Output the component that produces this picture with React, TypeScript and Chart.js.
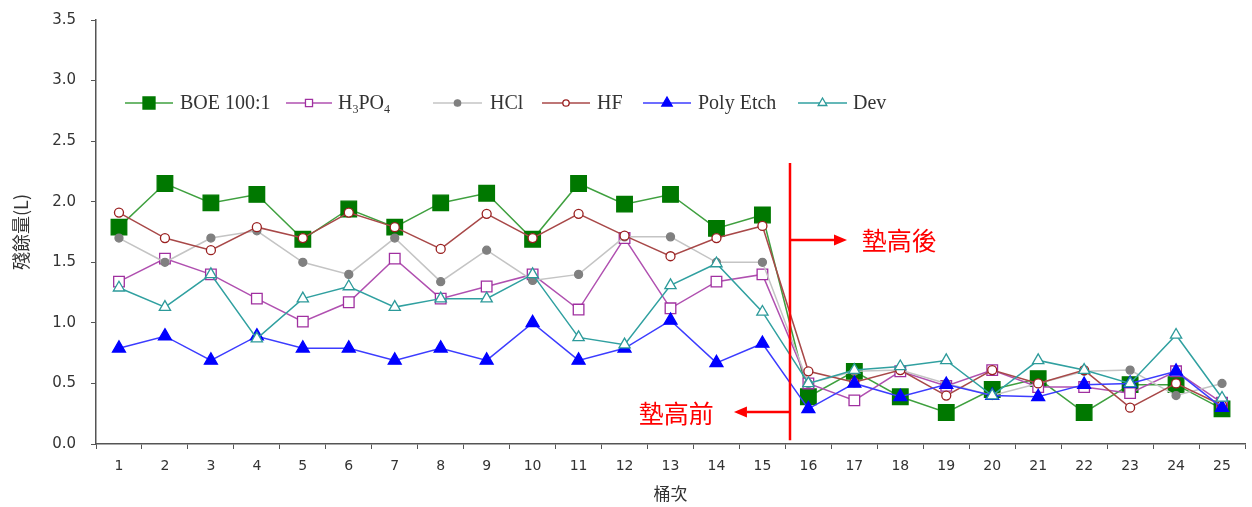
import React, { useEffect, useRef } from 'react';
import { Chart, registerables } from 'chart.js';
import { drawPoint } from 'chart.js/helpers';

Chart.register(...registerables);

const categories = ['1','2','3','4','5','6','7','8','9','10','11','12','13','14','15','16','17','18','19','20','21','22','23','24','25'];

const boe = [1.79, 2.15, 1.99, 2.06, 1.69, 1.94, 1.79, 1.99, 2.07, 1.69, 2.15, 1.98, 2.06, 1.78, 1.89, 0.39, 0.60, 0.39, 0.26, 0.45, 0.54, 0.26, 0.49, 0.49, 0.29];
const h3po4 = [1.34, 1.53, 1.40, 1.20, 1.01, 1.17, 1.53, 1.20, 1.30, 1.40, 1.11, 1.70, 1.12, 1.34, 1.40, 0.50, 0.36, 0.60, 0.48, 0.61, 0.47, 0.47, 0.42, 0.60, 0.34];
const hcl = [1.70, 1.50, 1.70, 1.76, 1.50, 1.40, 1.70, 1.34, 1.60, 1.35, 1.40, 1.71, 1.71, 1.50, 1.50, 0.50, 0.60, 0.61, 0.50, 0.40, 0.50, 0.60, 0.61, 0.40, 0.50];
const hf = [1.91, 1.70, 1.60, 1.79, 1.70, 1.91, 1.79, 1.61, 1.90, 1.70, 1.90, 1.72, 1.55, 1.70, 1.80, 0.60, 0.51, 0.61, 0.40, 0.61, 0.50, 0.61, 0.30, 0.50, 0.32];
const polyEtch = [0.79, 0.89, 0.69, 0.89, 0.79, 0.79, 0.69, 0.79, 0.69, 1.00, 0.69, 0.79, 1.02, 0.67, 0.83, 0.29, 0.50, 0.39, 0.49, 0.40, 0.39, 0.49, 0.50, 0.60, 0.30];
const dev = [1.29, 1.13, 1.40, 0.87, 1.20, 1.30, 1.13, 1.20, 1.20, 1.40, 0.88, 0.82, 1.31, 1.49, 1.09, 0.50, 0.61, 0.64, 0.69, 0.40, 0.69, 0.61, 0.50, 0.90, 0.38];

const seriesNames = ['BOE 100:1', 'H₃PO₄', 'HCl', 'HF', 'Poly Etch', 'Dev'];
const yAxisTitle = '殘餘量(L)';
const xAxisTitle = '桶次';
const afterText = '墊高後';
const beforeText = '墊高前';

const styles = [
  { line: '#3fa03f', fill: '#007800', border: '#007800', point: 'rect', r: 11, lr: 8.5 },
  { line: '#b050b0', fill: '#ffffff', border: '#a030a0', point: 'rect', r: 7.5, lr: 5 },
  { line: '#c4c4c4', fill: '#808080', border: '#808080', point: 'circle', r: 4, lr: 3.2 },
  { line: '#a84848', fill: '#ffffff', border: '#9a2020', point: 'circle', r: 4.5, lr: 3.2 },
  { line: '#3c3cff', fill: '#0000ff', border: '#0000ff', point: 'triangle', r: 7.5, lr: 6 },
  { line: '#30a0a0', fill: '#ffffff', border: '#2c9a9a', point: 'triangle', r: 6.5, lr: 5 },
];

const legendSlots = [
  [125, 173, 180],
  [286, 332, 338],
  [433, 482, 490],
  [542, 590, 597],
  [643, 691, 698],
  [798, 847, 853],
];

const SUBS: Record<string, string> = { '₀': '0', '₁': '1', '₂': '2', '₃': '3', '₄': '4', '₅': '5', '₆': '6', '₇': '7', '₈': '8', '₉': '9' };

function drawRichText(ctx: CanvasRenderingContext2D, text: string, x: number, y: number, size: number) {
  let cx = x;
  for (const ch of text) {
    if (SUBS[ch]) {
      ctx.font = `${Math.round(size * 0.62)}px "Liberation Serif"`;
      ctx.fillText(SUBS[ch], cx, y + size * 0.28);
      cx += ctx.measureText(SUBS[ch]).width;
    } else {
      ctx.font = `${size}px "Liberation Serif"`;
      ctx.fillText(ch, cx, y);
      cx += ctx.measureText(ch).width;
    }
  }
}

const legendPlugin = {
  id: 'customLegend',
  afterDraw(chart: any) {
    const ctx: CanvasRenderingContext2D = chart.ctx;
    const ly = 103;
    ctx.save();
    seriesNames.forEach((name, i) => {
      const st = styles[i];
      const [x0, x1, tx] = legendSlots[i];
      ctx.strokeStyle = st.line;
      ctx.lineWidth = 1.5;
      ctx.beginPath();
      ctx.moveTo(x0, ly);
      ctx.lineTo(x1, ly);
      ctx.stroke();
      ctx.fillStyle = st.fill;
      ctx.strokeStyle = st.border;
      ctx.lineWidth = 1.3;
      drawPoint(ctx, { pointStyle: st.point as any, radius: st.lr, rotation: 0, borderWidth: 1.3 } as any, (x0 + x1) / 2, ly);
      ctx.fillStyle = '#333333';
      ctx.textBaseline = 'middle';
      ctx.textAlign = 'left';
      drawRichText(ctx, name, tx, ly + 1, 20);
    });
    ctx.restore();
  },
};

function arrow(ctx: CanvasRenderingContext2D, xs: number, xe: number, y: number) {
  const dir = xe > xs ? 1 : -1;
  const head = 13;
  ctx.beginPath();
  ctx.moveTo(xs, y);
  ctx.lineTo(xe - dir * head, y);
  ctx.stroke();
  ctx.beginPath();
  ctx.moveTo(xe, y);
  ctx.lineTo(xe - dir * head, y - 5.5);
  ctx.lineTo(xe - dir * head, y + 5.5);
  ctx.closePath();
  ctx.fill();
}

const annotationPlugin = {
  id: 'annot',
  afterDatasetsDraw(chart: any) {
    const { ctx, scales } = chart;
    const x = scales.x;
    const y = scales.y;
    const p14 = x.getPixelForValue(14);
    const p15 = x.getPixelForValue(15);
    const step = p15 - p14;
    const xl = p14 + 0.6 * step;
    ctx.save();
    ctx.strokeStyle = '#ff0000';
    ctx.fillStyle = '#ff0000';
    ctx.lineWidth = 2.5;
    ctx.beginPath();
    ctx.moveTo(xl, y.getPixelForValue(2.32));
    ctx.lineTo(xl, y.getPixelForValue(0.03));
    ctx.stroke();
    const ya = y.getPixelForValue(1.684);
    const yb = y.getPixelForValue(0.264);
    arrow(ctx, xl, xl + 1.24 * step, ya);
    arrow(ctx, xl, xl - 1.22 * step, yb);
    ctx.font = '25px "Noto Sans CJK TC"';
    ctx.textBaseline = 'middle';
    ctx.textAlign = 'left';
    ctx.fillText(afterText, xl + 1.56 * step, ya + 1);
    ctx.textAlign = 'right';
    ctx.fillText(beforeText, xl - 1.66 * step, yb + 1);
    ctx.restore();
  },
};

const datasetArrays = [boe, h3po4, hcl, hf, polyEtch, dev];

export default function App() {
  const ref = useRef<HTMLCanvasElement | null>(null);
  useEffect(() => {
    if (!ref.current) return;
    const chart = new Chart(ref.current, {
      type: 'line',
      data: {
        labels: categories,
        datasets: datasetArrays.map((arr, i) => ({
          label: seriesNames[i],
          data: arr,
          borderColor: styles[i].line,
          borderWidth: 1.5,
          pointStyle: styles[i].point as any,
          pointRadius: styles[i].r,
          pointBackgroundColor: styles[i].fill,
          pointBorderColor: styles[i].border,
          pointBorderWidth: 1.3,
          tension: 0,
          fill: false,
          clip: false,
          order: 5 - i,
        })),
      },
      options: {
        animation: false,
        responsive: true,
        maintainAspectRatio: false,
        layout: { autoPadding: false, padding: { top: 20, right: 7, left: 0, bottom: 0 } },
        plugins: { legend: { display: false }, tooltip: { enabled: false } },
        scales: {
          x: {
            type: 'category',
            offset: true,
            grid: { offset: true, drawOnChartArea: false, tickLength: 5, color: '#555555' },
            border: { display: true, color: '#555555', width: 1.5 },
            ticks: { autoSkip: false, maxRotation: 0, padding: 9, color: '#333333', font: { family: 'DejaVu Sans', size: 14 } },
            title: { display: true, text: xAxisTitle, color: '#333333', font: { family: 'Noto Sans CJK TC', size: 17 }, padding: { top: 0, bottom: 3 } },
            afterFit: (s: any) => { s.height = 63; s.paddingLeft = 0; s.paddingRight = 0; },
          },
          y: {
            min: 0,
            max: 3.5,
            ticks: { stepSize: 0.5, padding: 15, color: '#333333', font: { family: 'DejaVu Sans', size: 15 }, callback: (v: any) => Number(v).toFixed(1) },
            grid: { drawOnChartArea: false, tickLength: 5, color: '#555555' },
            border: { display: true, color: '#555555', width: 1.5 },
            title: { display: true, text: yAxisTitle, color: '#333333', font: { family: 'Noto Sans CJK TC', size: 18 }, padding: { top: 10, bottom: 0 } },
            afterFit: (s: any) => { s.width = 96; s.paddingTop = 0; s.paddingBottom = 0; },
          },
        },
      },
      plugins: [annotationPlugin, legendPlugin],
    });
    return () => chart.destroy();
  }, []);
  return (
    <div style={{ position: 'fixed', left: 0, top: 0, width: 1252, height: 507, background: '#ffffff' }}>
      <canvas ref={ref} />
    </div>
  );
}
